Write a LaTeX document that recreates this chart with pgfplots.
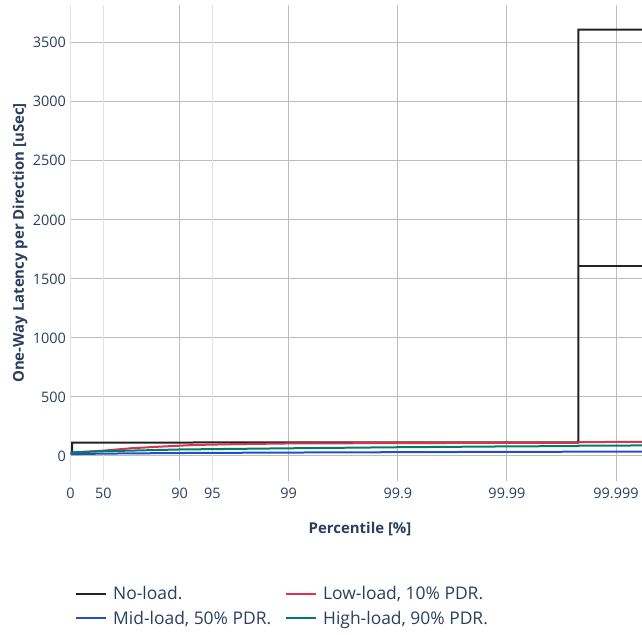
\documentclass[border=0pt]{standalone}
\usepackage{fontspec}
\setmainfont{Open Sans}
\usepackage{pgfplots}
\pgfplotsset{compat=1.18}
\definecolor{txt}{HTML}{2A3F5F}
\definecolor{cblack}{HTML}{222222}
\definecolor{cred}{HTML}{DC3250}
\definecolor{cblue}{HTML}{2050C8}
\definecolor{cgreen}{HTML}{007D68}
\definecolor{gmaj}{HTML}{BDBDBD}
\definecolor{gmin}{HTML}{E2E2E2}
\begin{document}
\begin{tikzpicture}
\useasboundingbox (-70.5bp,-154bp) rectangle (571.5bp,481bp);
\begin{axis}[
  scale only axis, width=571.5bp, height=476bp,
  at={(0,0)}, anchor=south west,
  xmin=0, xmax=5.238, ymin=-212, ymax=3820,
  axis line style={draw=none},
  major tick length=0pt,
  xtick={1,2,3,4,5}, xticklabels={90,99,99.9,99.99,99.999},
  extra x ticks={0,0.30103,1.30103}, extra x tick labels={0,50,95},
  extra x tick style={grid style={gmin, line width=1bp}},
  ytick={0,500,1000,1500,2000,2500,3000,3500},
  yticklabels={0,500,1000,1500,2000,2500,3000,3500},
  xmajorgrids, ymajorgrids,
  grid style={gmaj, line width=1bp},
  tick label style={font=\fontsize{14.5}{16}\selectfont, text=txt},
  xticklabel style={yshift=-4bp},
  yticklabel style={xshift=-1bp},
  xlabel={Percentile [\%]}, ylabel={One-Way Latency per Direction [uSec]},
  label style={font=\bfseries\fontsize{15}{18}\selectfont, text=txt},
  xlabel style={at={(axis description cs:0.5066,-0.1008)}, anchor=center},
  ylabel style={at={(axis description cs:-0.0884,0.5)}, anchor=center, rotate=0},
  legend columns=2,
  legend style={draw=none, fill=none, at={(axis description cs:0.0114,-0.2125)}, anchor=north west,
    xshift=-5bp,
    font=\fontsize{17.5}{20}\selectfont, text=txt, row sep=6bp,
    /tikz/every odd column/.append style={column sep=4bp},
    /tikz/every even column/.append style={column sep=12bp}},
  legend cell align=left,
  legend image code/.code={\draw[#1] (0bp,0bp) -- (30bp,0bp);},
  clip=true,
]
\addplot[cblack, line width=2bp] coordinates {
 (0,25) (0.015,25) (0.015,113) (1,114) (2,115) (3,115) (4,116) (4.654,116)
 (4.654,3612) (6,3612)
};
\addlegendentry{No-load.}
\addplot[cred, line width=2bp] coordinates {
 (0,28) (0.3,45) (0.55,65) (0.8,78) (1.13,93) (1.5,100) (2,106) (3,109) (4,111) (4.654,112)
 (4.66,118) (6,120)
};
\addlegendentry{Low-load, 10\% PDR.}
\addplot[cblue, line width=2bp] coordinates {
 (0,15) (0.3,20) (1,25) (2,29) (3,32) (4,35) (4.654,36) (6,38)
};
\addlegendentry{Mid-load, 50\% PDR.}
\addplot[cgreen, line width=2bp] coordinates {
 (0,30) (0.3,40) (1,55) (2,65) (3,74) (4,81) (4.654,84) (4.66,88) (6,90)
};
\addlegendentry{High-load, 90\% PDR.}
\addplot[cblack, line width=1.3bp, forget plot] coordinates {
 (4.654,1610) (6,1610)
};
\end{axis}
\end{tikzpicture}
\end{document}
